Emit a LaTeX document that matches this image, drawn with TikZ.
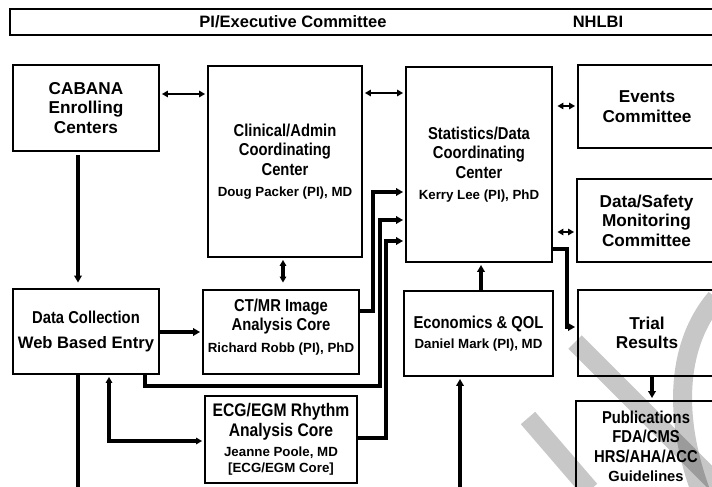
\documentclass[tikz,border=0pt]{standalone}
\usepackage{fontspec}
\setmainfont{Liberation Sans}
\newfontfamily\narrowf[FakeStretch=0.86]{Liberation Sans}
\usetikzlibrary{arrows.meta}
\newcommand\Lbig{\normalfont\fontsize{17.2}{19.5}\selectfont\bfseries}
\newcommand\Lnar{\narrowf\fontsize{17.2}{19.5}\selectfont\bfseries}
\newcommand\Lsmall{\normalfont\fontsize{13.3}{16}\selectfont\bfseries}
\begin{document}
\begin{tikzpicture}[x=1pt,y=-1pt,
  box/.style={draw, line width=2.9pt, fill=white, inner sep=0pt, align=center},
  conn/.style={line width=3.2pt, shorten >=1.5pt, -{Triangle[length=7pt,width=7.5pt]}},
  dblarrow/.style={line width=2.8pt, shorten >=1.5pt, shorten <=1.5pt, {Triangle[length=6pt,width=6.5pt]}-{Triangle[length=6pt,width=6.5pt]}},
  plain/.style={line width=3.2pt},
  wm/.style={line width=19pt, draw=black, opacity=0.22}]
\useasboundingbox (0,0) rectangle (712,487);
\clip (0,0) rectangle (712,487);
\fill[white] (0,0) rectangle (712,487);

% top bar
\node[box, minimum width=735pt, minimum height=26pt] (bar) at (377.5,22) {};
\node[font=\fontsize{16.5}{19}\selectfont\bfseries] (pie) at (293,22) {PI/Executive Committee};
\node[font=\fontsize{16.5}{19}\selectfont\bfseries] (nhlbi) at (598,22) {NHLBI};

% boxes
\node[box, font=\Lbig, minimum width=146pt, minimum height=86pt] (cab) at (86,108) {CABANA\\Enrolling\\Centers};
\node[box, font=\Lnar, minimum width=154pt, minimum height=191pt] (clin) at (285,161.5)
  {Clinical/Admin\\Coordinating\\Center\\[2pt]\Lsmall Doug Packer (PI), MD};
\node[box, font=\Lnar, minimum width=146pt, minimum height=195pt] (stats) at (479,164.5)
  {Statistics/Data\\Coordinating\\Center\\[2pt]\Lsmall Kerry Lee (PI), PhD};
\node[box, font=\Lbig, minimum width=138pt, minimum height=83pt] (events) at (647,106.5) {Events\\Committee};
\node[box, font=\Lbig, minimum width=139pt, minimum height=83pt] (dsmc) at (646.5,220.5) {Data/Safety\\Monitoring\\Committee};
\node[box, font=\Lnar, minimum width=146pt, minimum height=85pt] (dc) at (86,331.5)
  {Data Collection\\[5pt]\normalfont\fontsize{16.6}{19.5}\selectfont\bfseries Web Based Entry};
\node[box, minimum width=156pt, minimum height=84pt] (ctmr) at (281,332) {};
\node[font=\Lnar, align=center] (ctmrt) at (281,327)
  {CT/MR Image\\Analysis Core\\[2pt]\Lsmall Richard Robb (PI), PhD};
\node[box, font=\Lnar, minimum width=149pt, minimum height=85pt] (econ) at (478.5,333.5)
  {Economics \& QOL\\[1pt]\Lsmall Daniel Mark (PI), MD};
\node[box, font=\Lbig, minimum width=138pt, minimum height=86pt] (trial) at (647,333) {Trial\\Results};
\node[box, font=\Lnar, minimum width=152pt, minimum height=87pt] (ecg) at (281,439.5)
  {\fontsize{18.2}{19.5}\selectfont ECG/EGM Rhythm\\\fontsize{18.2}{19.5}\selectfont Analysis Core\\[1pt]\Lsmall Jeanne Poole, MD\\[-4pt]\Lsmall{[ECG/EGM Core]}};
\node[box, font=\Lnar, minimum width=140pt, minimum height=91pt] (pubs) at (646,446.5)
  {Publications\\FDA/CMS\\HRS/AHA/ACC\\[0pt]\normalfont\fontsize{14.7}{17}\selectfont\bfseries Guidelines};

% connectors
\draw[dblarrow] (cab.east |- 0,94) -- (clin.west |- 0,94);
\draw[dblarrow] (clin.east |- 0,93) -- (stats.west |- 0,93);
\draw[dblarrow, line width=2.3pt, shorten <=4pt] (stats.east |- 0,106) -- (events.west |- 0,106);
\draw[dblarrow, line width=2.3pt, shorten <=4pt] (stats.east |- 0,232) -- (dsmc.west |- 0,232);
\draw[conn, shorten <=3pt, shorten >=5pt] (cab.south -| 78,0) -- (dc.north -| 78,0);
\draw[dblarrow, line width=3.1pt, shorten >=6pt] (clin.south -| 283,0) -- (ctmr.north -| 283,0);
\draw[conn] (dc.east |- 0,332) -- (ctmr.west |- 0,332);
\draw[conn] (ctmr.east |- 0,311) -- (373,311) |- (stats.west |- 0,192);
\draw[conn] (dc.south -| 145,0) |- (380,386) |- (stats.west |- 0,220);
\draw[conn] (ecg.east |- 0,438) -| (386,241) -- (stats.west |- 0,241);
\draw[dblarrow, line width=3.1pt] (dc.south -| 109,0) |- (ecg.west |- 0,441);
\draw[conn] (econ.north -| 481,0) -- (stats.south -| 481,0);
\draw[conn] (stats.east |- 0,249) -| (567,327) -- (trial.west |- 0,327);
\draw[conn] (trial.south -| 652,0) -- (pubs.north -| 652,0);
\coordinate (ein) at (460,495);
\draw[conn] (ein) -- (econ.south -| ein);
\coordinate (dout) at (78,495);
\draw[plain] (dc.south -| dout) -- (dout);

% watermark fragment
\draw[wm] (575,342) -- (716,483);
\draw[wm] (528,418) -- (590,490);
\draw[wm] (716,298) .. controls (684,335) and (668,400) .. (700,490);
\end{tikzpicture}
\end{document}
